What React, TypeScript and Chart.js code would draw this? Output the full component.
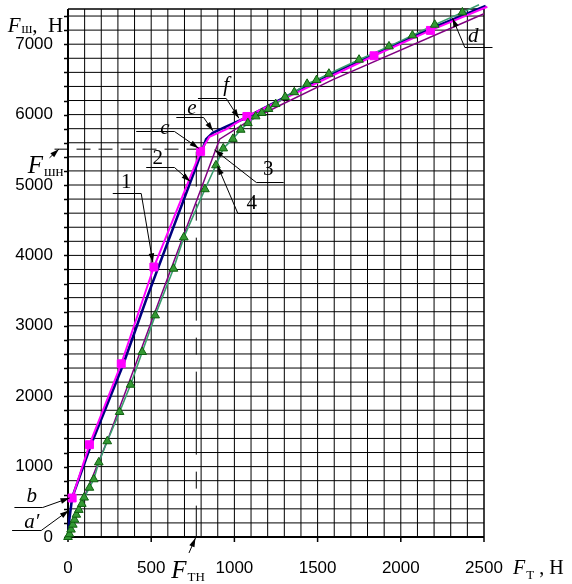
import React, { useEffect, useRef } from "react";
import { Chart, registerables } from "chart.js";

Chart.register(...registerables);

// Curve 1 (magenta, squares) – measured points
const curve1X = [25, 129, 320, 516, 797, 1075, 1839, 2178];
const curve1Y = [554, 1311, 2461, 3835, 5477, 5974, 6836, 7196];
// Curve 1 additional line knots (no markers)
const curve1KnotX = [850, 950, 2520];
const curve1KnotY = [5685, 5790, 7532];

// Curve 2 (navy line)
const curve2X = [0, 8, 25, 140, 330, 470, 771, 807, 830, 870, 950, 1060, 1500, 1850, 2200, 2510];
const curve2Y = [0, 250, 560, 1320, 2440, 3371, 5264, 5500, 5650, 5740, 5830, 5945, 6490, 6870, 7240, 7545];

// Curve 3 (purple line)
const curve3X = [0, 240, 550, 911, 1081, 1272, 1592, 2500];
const curve3Y = [0, 1390, 3371, 5650, 5903, 6129, 6496, 7433];

// Curve 4 (green, triangles) – measured points
const curve4X = [0, 9, 18, 29, 39, 50, 65, 83, 97, 129, 155, 185, 236, 310, 376, 446, 524, 634, 696, 823, 889, 933, 991, 1038, 1081, 1128, 1165, 1205, 1248, 1305, 1360, 1437, 1494, 1568, 1749, 1929, 2070, 2204, 2370];
const curve4Y = [0, 40, 105, 175, 246, 317, 385, 470, 560, 700, 820, 1060, 1360, 1776, 2163, 2628, 3148, 3811, 4256, 4940, 5280, 5520, 5655, 5785, 5880, 5975, 6023, 6080, 6150, 6250, 6318, 6437, 6491, 6581, 6780, 6969, 7125, 7277, 7452];
// Curve 4 tail of line (no marker)
const curve4TailX = [2470];
const curve4TailY = [7560];

// Axis ticks
const xTickValues = [0, 500, 1000, 1500, 2000, 2500];
const yTickValues = [0, 1000, 2000, 3000, 4000, 5000, 6000, 7000];

// Characteristic levels
const fShn = 5509; // F_шн
const fTn = 771; // F_тн

const pts = (xs: number[], ys: number[]) => xs.map((x, i) => ({ x, y: ys[i] }));
const merged = (xa: number[], ya: number[], xb: number[], yb: number[]) =>
  [...pts(xa, ya), ...pts(xb, yb)].sort((p, q) => p.x - q.x);

function arrow(ctx: CanvasRenderingContext2D, x1: number, y1: number, x2: number, y2: number) {
  ctx.beginPath();
  ctx.moveTo(x1, y1);
  ctx.lineTo(x2, y2);
  ctx.stroke();
  const ang = Math.atan2(y2 - y1, x2 - x1);
  const L = 9, W = 2.8;
  ctx.beginPath();
  ctx.moveTo(x2, y2);
  ctx.lineTo(x2 - L * Math.cos(ang) + W * Math.sin(ang), y2 - L * Math.sin(ang) - W * Math.cos(ang));
  ctx.lineTo(x2 - L * Math.cos(ang) - W * Math.sin(ang), y2 - L * Math.sin(ang) + W * Math.cos(ang));
  ctx.closePath();
  ctx.fill();
}

type Lbl = { t: string; it: boolean; c: [number, number]; u: [number, number, number]; end: "l" | "r"; tip: [number, number] };
const leaderLabels: Lbl[] = [
  { t: "1", it: false, c: [350, 5040], u: [269, 440, 4884], end: "r", tip: [510, 3900] },
  { t: "2", it: false, c: [540, 5381], u: [470, 640, 5262], end: "r", tip: [735, 5049] },
  { t: "c", it: true, c: [582, 5800], u: [410, 640, 5769], end: "r", tip: [785, 5523] },
  { t: "e", it: true, c: [745, 6090], u: [651, 815, 5963], end: "r", tip: [871, 5769] },
  { t: "f", it: true, c: [951, 6420], u: [781, 951, 6241], end: "r", tip: [1027, 5949] },
  { t: "3", it: false, c: [1204, 5215], u: [1132, 1296, 5049], end: "l", tip: [881, 5499] },
  { t: "4", it: false, c: [1105, 4732], u: [1021, 1198, 4600], end: "l", tip: [899, 5272] },
  { t: "d", it: true, c: [2435, 7115], u: [2385, 2551, 6966], end: "l", tip: [2311, 7369] },
  { t: "b", it: true, c: [-218, 570], u: [-322, -152, 420], end: "r", tip: [9, 554] },
  { t: "a\u2032", it: true, c: [-218, 205], u: [-336, -161, 94], end: "r", tip: [5, 378] },
];

const decor = {
  id: "decor",
  beforeDatasetsDraw(chart: any) {
    const { ctx, chartArea: a, scales } = chart;
    const xs = scales.x, ys = scales.y;
    const px = (v: number) => xs.getPixelForValue(v);
    const py = (v: number) => ys.getPixelForValue(v);
    ctx.save();
    ctx.strokeStyle = "#000";
    ctx.lineWidth = 1;
    ctx.beginPath();
    for (let i = 1; i < 25; i++) {
      const x = px(i * 100);
      ctx.moveTo(x, a.top);
      ctx.lineTo(x, a.bottom);
    }
    for (let i = 1; i <= 37; i++) {
      const y = py(i * 200);
      ctx.moveTo(a.left, y);
      ctx.lineTo(a.right, y);
    }
    ctx.stroke();
    // top / right border
    ctx.lineWidth = 1.5;
    ctx.beginPath();
    ctx.moveTo(a.left, a.top);
    ctx.lineTo(a.right, a.top);
    ctx.lineTo(a.right, a.bottom);
    ctx.stroke();
    // axes
    ctx.lineWidth = 2;
    ctx.beginPath();
    ctx.moveTo(a.left, a.top);
    ctx.lineTo(a.left, a.bottom);
    ctx.lineTo(a.right, a.bottom);
    ctx.stroke();
    // tick marks
    ctx.lineWidth = 1.5;
    ctx.beginPath();
    for (let i = 0; i <= 37; i++) {
      const y = Math.round(py(i * 200)) + 0.5;
      ctx.moveTo(a.left - 4, y);
      ctx.lineTo(a.left, y);
    }
    xTickValues.forEach((v) => {
      const x = px(v);
      ctx.moveTo(x, a.bottom);
      ctx.lineTo(x, a.bottom + 5);
    });
    ctx.stroke();
    // F_шн dashed line
    ctx.lineWidth = 1;
    ctx.setLineDash([14, 8]);
    ctx.beginPath();
    ctx.moveTo(px(-81), py(fShn));
    ctx.lineTo(px(fTn + 20), py(fShn));
    ctx.stroke();
    // F_тн dash-dot line
    ctx.setLineDash([83, 17, 17, 17]);
    ctx.lineDashOffset = 48;
    ctx.beginPath();
    ctx.moveTo(px(fTn), py(fShn - 35));
    ctx.lineTo(px(fTn), py(0));
    ctx.stroke();
    ctx.restore();
  },
  afterDatasetsDraw(chart: any) {
    const { ctx, scales } = chart;
    const xs = scales.x, ys = scales.y;
    const px = (v: number) => xs.getPixelForValue(v);
    const py = (v: number) => ys.getPixelForValue(v);
    ctx.save();
    ctx.strokeStyle = "#000";
    ctx.fillStyle = "#000";
    ctx.lineWidth = 1;
    leaderLabels.forEach((l) => {
      const y = Math.round(py(l.u[2])) + 0.5;
      ctx.beginPath();
      ctx.moveTo(px(l.u[0]), y);
      ctx.lineTo(px(l.u[1]), y);
      ctx.stroke();
      const sx = l.end === "l" ? px(l.u[0]) : px(l.u[1]);
      arrow(ctx, sx, y, px(l.tip[0]), py(l.tip[1]));
      ctx.font = (l.it ? "italic " : "") + "21px 'Liberation Serif'";
      ctx.textAlign = "center";
      ctx.textBaseline = "middle";
      ctx.fillText(l.t, px(l.c[0]), py(l.c[1]));
    });
    ctx.textAlign = "left";
    ctx.textBaseline = "alphabetic";
    const composite = (x: number, y: number, fSize: number, sub: string, subSize: number, subDy: number, tail: string) => {
      ctx.font = `italic ${fSize}px 'Liberation Serif'`;
      ctx.fillText("F", x, y);
      let cx = x + ctx.measureText("F").width + 1;
      ctx.font = `${subSize}px 'Liberation Serif'`;
      ctx.fillText(sub, cx, y + subDy);
      cx += ctx.measureText(sub).width;
      if (tail) {
        ctx.font = `${fSize}px 'Liberation Serif'`;
        ctx.fillText(tail, cx, y);
      }
    };
    // y title
    composite(px(-362), py(7179), 21, "ш", 14, 1, ",  Н");
    // x title
    composite(px(2675), py(-521), 20, "Т", 13, 5, " , Н");
    // F_шн label
    composite(px(-242), py(5168), 25, "шн", 15, 3, "");
    arrow(ctx, px(-111), py(5386), px(-55), py(fShn));
    // F_тн label
    composite(px(621), py(-582), 25, "ТН", 13, 3, "");
    arrow(ctx, px(727), py(-227), px(fTn - 5), py(-14));
    ctx.restore();
  },
};

export default function App() {
  const ref = useRef<HTMLCanvasElement>(null);
  useEffect(() => {
    const chart = new Chart(ref.current as HTMLCanvasElement, {
      type: "scatter",
      data: {
        datasets: [
          {
            data: pts(curve4X, curve4Y),
            showLine: false,
            pointStyle: "triangle",
            pointRadius: 5,
            backgroundColor: "#339933",
            borderColor: "#0f5f0f",
            borderWidth: 1,
            clip: 10,
          },
          {
            data: pts(curve1X, curve1Y),
            showLine: false,
            pointStyle: "rect",
            pointRadius: 5.6,
            backgroundColor: "#ff00ff",
            borderColor: "#ff00ff",
            borderWidth: 1,
            clip: 10,
          },
          {
            data: merged(curve4X, curve4Y, curve4TailX, curve4TailY),
            showLine: true,
            pointRadius: 0,
            borderColor: "#3a9d6e",
            borderWidth: 1.6,
            clip: 10,
          },
          {
            data: merged(curve1X, curve1Y, curve1KnotX, curve1KnotY),
            showLine: true,
            pointRadius: 0,
            borderColor: "#ff00ff",
            borderWidth: 2,
            clip: 10,
          },
          {
            data: pts(curve2X, curve2Y),
            showLine: true,
            pointRadius: 0,
            borderColor: "#000080",
            borderWidth: 2.6,
            clip: 10,
          },
          {
            data: pts(curve3X, curve3Y),
            showLine: true,
            pointRadius: 0,
            borderColor: "#800080",
            borderWidth: 1.5,
            clip: 10,
          },
        ],
      },
      options: {
        responsive: false,
        animation: false,
        events: [],
        layout: { padding: { left: 0, top: 9, right: 88, bottom: 0 } },
        plugins: { legend: { display: false }, tooltip: { enabled: false } },
        scales: {
          x: {
            type: "linear",
            min: 0,
            max: 2500,
            grid: { display: false, drawTicks: false },
            border: { display: false },
            afterBuildTicks: (s: any) => {
              s.ticks = xTickValues.map((v) => ({ value: v }));
            },
            afterFit: (s: any) => {
              s.height = 47;
              s.paddingLeft = 0;
              s.paddingRight = 0;
            },
            ticks: {
              autoSkip: false,
              maxRotation: 0,
              padding: 21,
              color: "#000",
              font: { family: "'Liberation Sans'", size: 17 },
              callback: (v: any) => String(v),
            },
          },
          y: {
            type: "linear",
            min: 0,
            max: 7500,
            grid: { display: false, drawTicks: false },
            border: { display: false },
            afterBuildTicks: (s: any) => {
              s.ticks = yTickValues.map((v) => ({ value: v }));
            },
            afterFit: (s: any) => {
              s.width = 68;
              s.paddingTop = 0;
              s.paddingBottom = 0;
            },
            ticks: {
              autoSkip: false,
              padding: 15,
              color: "#000",
              font: { family: "'Liberation Sans'", size: 17 },
              callback: (v: any) => String(v),
            },
          },
        },
      },
      plugins: [decor],
    });
    return () => chart.destroy();
  }, []);
  return (
    <div style={{ position: "absolute", left: 0, top: 0, width: 572, height: 584, background: "#fff" }}>
      <canvas ref={ref} width={572} height={584} style={{ display: "block" }} />
    </div>
  );
}
